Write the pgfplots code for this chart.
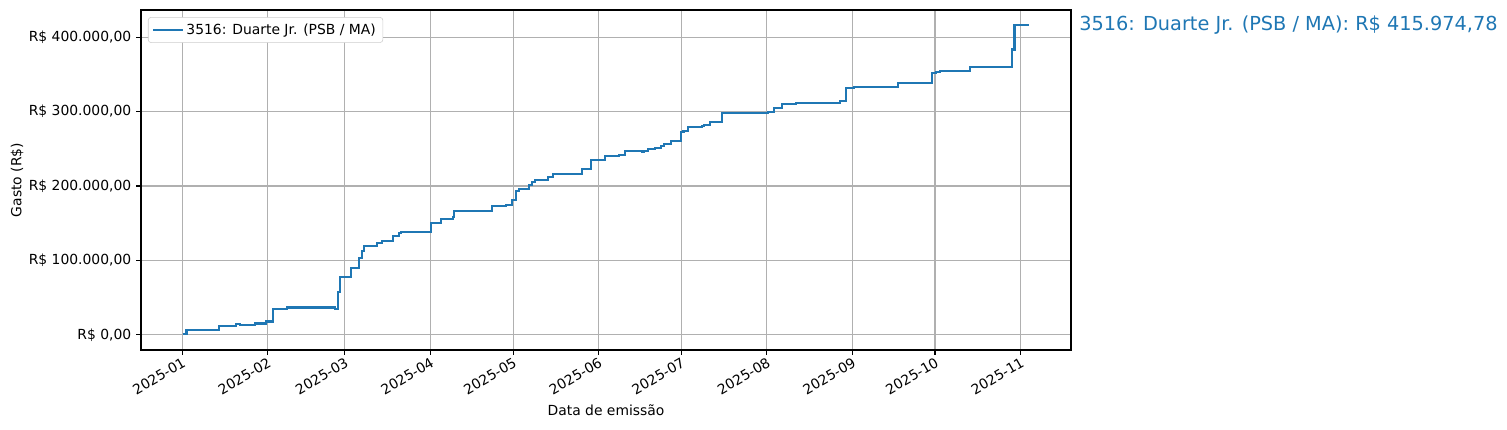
\documentclass[border=0pt]{standalone}
\usepackage{fontspec}
\setmainfont{DejaVu Sans}
\usepackage{pgfplots}
\pgfplotsset{compat=1.18}
\usetikzlibrary{calc}
\definecolor{tabblue}{HTML}{1F77B4}

% cumulative spending, x = days since 2025-01-01
\begin{document}
\begin{tikzpicture}
\begin{axis}[
    name=ax,
    scale only axis,
    width=669.6pt, height=244.8pt,
    xmin=-14.9, xmax=322.3,
    ymin=-20400, ymax=436600,
    clip=false,
    axis line style={line width=0.8pt},
    tick style={line width=0.8pt, black},
    tick align=outside,
    major tick length=3.5pt,
    xtick pos=lower, ytick pos=left,
    xtick={0,31,59,90,120,151,181,212,243,273,304},
    xticklabels={2025-01,2025-02,2025-03,2025-04,2025-05,2025-06,2025-07,2025-08,2025-09,2025-10,2025-11},
    ytick={0,100000,200000,300000,400000},
    yticklabels={R\$ 0{,}00,R\$ 100.000{,}00,R\$ 200.000{,}00,R\$ 300.000{,}00,R\$ 400.000{,}00},
    xticklabel style={rotate=30, anchor=north east, inner sep=1pt, font=\fontsize{10}{12}\selectfont},
    yticklabel style={font=\fontsize{10}{12}\selectfont},
    scaled y ticks=false,
    /pgf/number format/assume math mode=true,
    grid=major,
    major grid style={color=black!31, line width=0.8pt},
    xlabel={Data de emissão},
    ylabel={Gasto (R\$)},
    label style={font=\fontsize{10}{12}\selectfont},
    xlabel style={yshift=-2pt},
    ylabel style={yshift=-3pt},
    legend style={at={(0.0075,0.979)}, anchor=north west, draw=black!20, rounded corners=2pt,
        font=\fontsize{10}{12}\selectfont, inner xsep=3pt, inner ysep=2.5pt, row sep=0pt},
    legend image code/.code={\draw[#1] (0pt,0pt) -- (21pt,0pt);},
    legend cell align=left,
]
\addplot[const plot, color=tabblue, line width=1.5pt] coordinates {
(0.4,1300) (1.6,7000) (13.3,12000) (19.7,14800) (21.0,13400) (26.3,15200)
(30.4,17900) (32.8,35300) (38.0,36700) (55.5,35300) (56.5,57700) (57.2,77900)
(61.2,90400) (64.2,103800) (65.1,113200) (65.9,119900) (70.6,123500) (72.4,126600)
(76.6,132900) (78.7,136500) (79.4,138700) (90.1,150700) (94.0,156100) (98.1,158800)
(98.7,166400) (112.2,173200) (117.4,174500) (119.7,181200) (121.2,193700) (122.2,196400)
(125.7,201300) (126.9,204900) (127.8,207600) (132.7,212500) (134.5,216500) (145.1,222800)
(148.3,234900) (153.5,240700) (158.5,242000) (160.6,247000) (166.7,246000) (167.3,247600)
(168.8,249700) (171.6,251000) (173.6,254100) (174.8,256000) (177.2,260800) (181.0,272500)
(181.8,274200) (183.4,278800) (188.5,281000) (189.1,282300) (191.5,285900) (195.8,298400)
(212.6,299700) (214.6,305100) (217.6,310500) (222.6,311800) (238.5,314500) (240.7,332000)
(243.6,333300) (259.5,338700) (271.8,351300) (273.5,353000) (274.7,354000) (281.6,354800)
(285.8,360100) (300.8,383500) (301.8,415974.78) (307.0,415974.78)
};
\addlegendentry{3516: Duarte Jr. (PSB / MA)}
\node[anchor=west, text=tabblue, font=\fontsize{13.9}{16}\selectfont, inner sep=0pt, xshift=5.8pt]
    at ({rel axis cs:1,0} |- {axis cs:0,415974.78}) {3516: Duarte Jr. (PSB / MA): R\$ 415.974,78};
\end{axis}
\path ($(ax.south west)+(-101.52pt,-57.6pt)$) rectangle ($(ax.north east)+(313.92pt,7.2pt)$);
\end{tikzpicture}
\end{document}
